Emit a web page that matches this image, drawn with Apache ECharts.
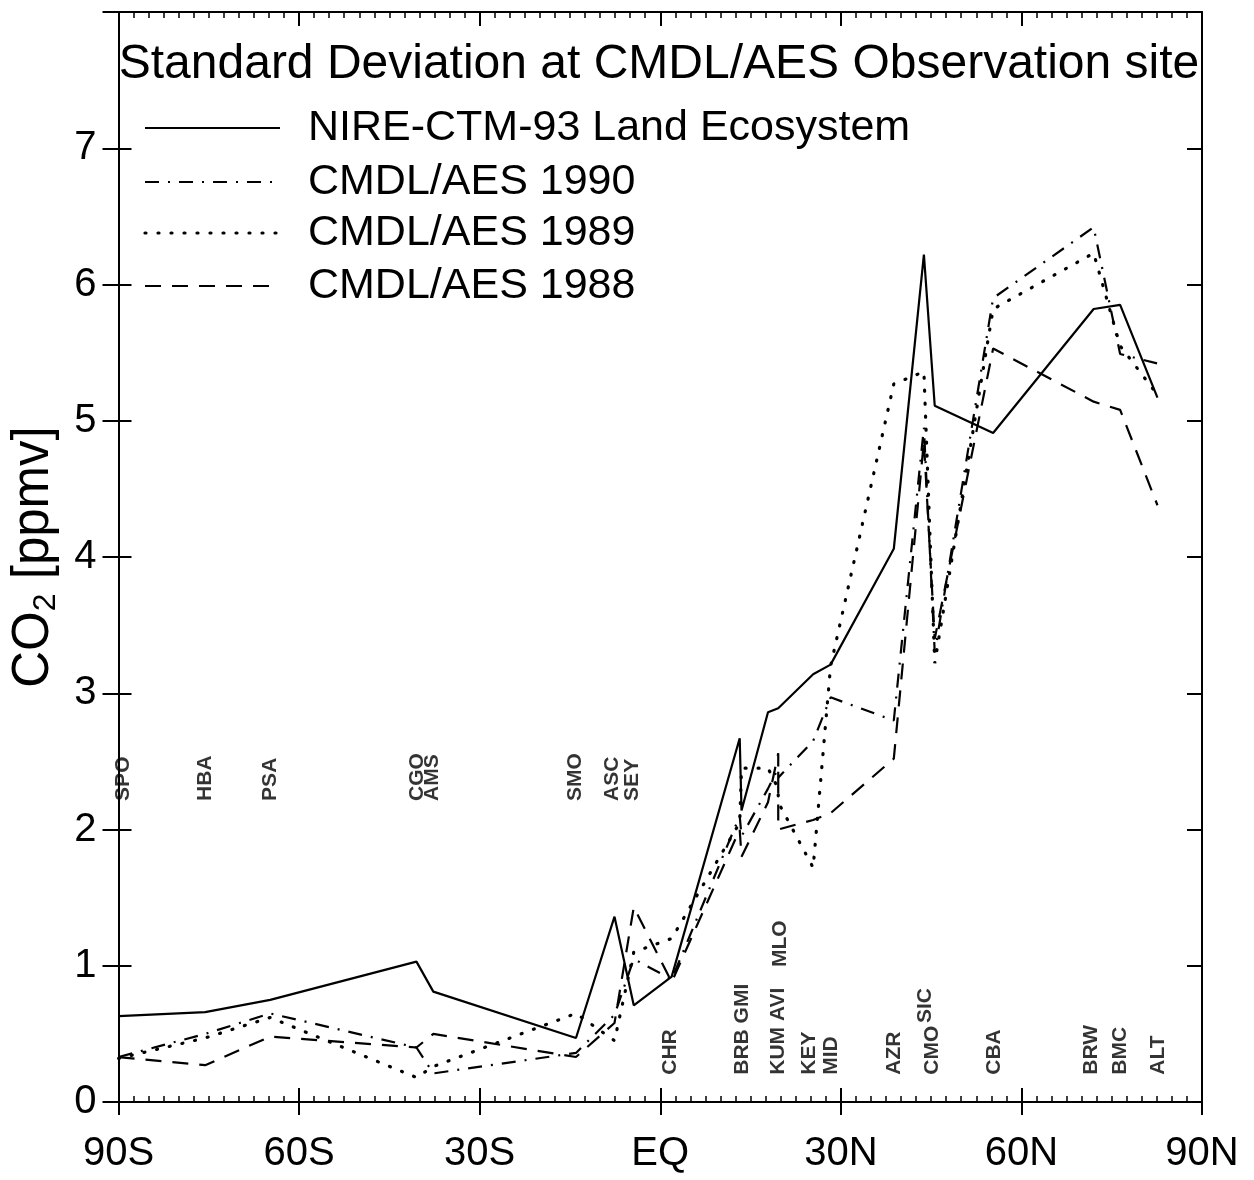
<!DOCTYPE html>
<html><head><meta charset="utf-8">
<script src="https://cdn.jsdelivr.net/npm/echarts@6/dist/echarts.min.js"></script>
<style>html,body{margin:0;padding:0;background:#fff}#c{width:1254px;height:1180px}</style>
</head><body><div id="c"></div>
<script>
// ---- data ----
const stations = ['SPO','HBA','PSA','CGO','AMS','SMO','ASC','SEY','CHR','BRB','GMI','AVI','KUM','MLO','KEY','MID','AZR','SIC','CMO','CBA','BRW','BMC','ALT'];
const lats     = [-89.98,-75.6,-64.8,-40.5,-37.7,-14.0,-7.6,-4.4,1.9,13.2,13.5,17.9,19.6,19.6,25.4,28.3,38.8,43.8,45.6,55.3,72.0,76.4,82.6];
const nire     = [0.63,0.66,0.75,1.03,0.81,0.47,1.36,0.71,0.92,2.67,2.14,2.86,2.89,2.90,3.14,3.21,4.06,6.22,5.11,4.91,5.82,5.85,5.17];
const aes1990  = [0.33,0.50,0.65,0.40,0.21,0.36,0.64,1.05,0.90,2.10,1.95,2.30,2.45,2.38,2.65,2.97,2.80,4.95,3.30,5.90,6.42,5.49,5.42];
const aes1989  = [0.32,0.47,0.62,0.18,0.26,0.65,0.45,1.10,1.20,2.05,2.45,2.45,2.30,2.20,1.72,3.20,5.27,5.36,3.22,5.82,6.23,5.55,5.19];
const aes1988  = [0.33,0.27,0.48,0.40,0.50,0.33,0.58,1.43,0.88,2.00,1.80,2.20,2.56,2.00,2.07,2.12,2.52,4.85,3.40,5.53,5.14,5.08,4.38];
const seriesNames = ['NIRE-CTM-93 Land Ecosystem','CMDL/AES 1990','CMDL/AES 1989','CMDL/AES 1988'];
const xTicks = [-90,-60,-30,0,30,60,90];
const xTickLabels = ['90S','60S','30S','EQ','30N','60N','90N'];
const yTickLabels = ['0','1','2','3','4','5','6','7'];
// station labels (text, latitude, label row)
const labelText = ['SPO','HBA','PSA','CGO','AMS','SMO','ASC','SEY','CHR','BRB GMI','KUM AVI','MLO','KEY','MID','AZR','SIC','CMO','CBA','BRW','BMC','ALT'];
const labelLat  = [-89.2,-75.6,-64.8,-40.4,-37.9,-14.2,-7.9,-4.7,1.7,13.6,19.6,19.9,24.8,28.4,38.8,44.0,45.2,55.4,71.6,76.4,82.7];
const labelRow  = ['S','S','S','S','S','S','S','S','N','N','N','M','N','N','N','C','N','N','N','N','N'];

// ---- layout helpers ----
const rowY = {S:2.21, N:0.2, C:0.58, M:0.99};
const FONT = "'Liberation Sans', Arial, Helvetica, sans-serif";
const pairs = arr => lats.map((x,i)=>[x,arr[i]]);
const styles = [
  {type:'solid', width:2.2},
  {type:[14,9,2,9], width:2.2},
  {type:[1,12], width:3.2, cap:'round'},
  {type:[16,11], width:2.2}
];
const dataSets = [nire, aes1990, aes1989, aes1988];

const chart = echarts.init(document.getElementById('c'), null, {renderer:'canvas'});
const grid = {left:116, right:52, top:12, bottom:78};
const xBase = {type:'value', min:-90, max:90, interval:30, gridIndex:0,
  splitLine:{show:false}, axisLine:{show:true, onZero:false, lineStyle:{color:'#000', width:2}}};
const yBase = {type:'value', min:0, max:8, interval:1, gridIndex:0,
  splitLine:{show:false}, axisLine:{show:true, onZero:false, lineStyle:{color:'#000', width:2}}};

// legend drawn as graphic elements
const legendRowsY = [128, 182, 233, 286];
const legendGraphics = [];
seriesNames.forEach((n,i)=>{
  const st = styles[i];
  legendGraphics.push({
    type:'line', shape:{x1:145, y1:legendRowsY[i], x2:280, y2:legendRowsY[i]},
    style:{stroke:'#000', lineWidth:st.width, lineDash: st.type==='solid'?null:st.type, lineCap: st.cap||'butt'},
    silent:true, z:10
  });
  legendGraphics.push({
    type:'text', x:308, y:legendRowsY[i],
    style:{text:n, font:"43px 'Liberation Sans', Arial, sans-serif", fill:'#000', textVerticalAlign:'middle', verticalAlign:'middle'},
    silent:true, z:10
  });
});

const option = {
  animation:false,
  backgroundColor:'#fff',
  grid: grid,
  title: {
    text:'Standard Deviation at CMDL/AES Observation site',
    left:659, textAlign:'center', top:41, padding:0,
    textStyle:{fontFamily:FONT, fontSize:48, fontWeight:'normal', color:'#000'}
  },
  graphic: legendGraphics,
  xAxis: [
    Object.assign({}, xBase, {position:'bottom',
      axisTick:{show:true, inside:false, length:13, lineStyle:{color:'#000', width:2}},
      axisLabel:{show:true, margin:32, fontFamily:FONT, fontSize:40, color:'#000', showMinLabel:true, showMaxLabel:true,
        formatter: v => { const i = xTicks.indexOf(v); return i>=0 ? xTickLabels[i] : ''; }}}),
    Object.assign({}, xBase, {position:'bottom',
      axisTick:{show:true, inside:true, length:14, lineStyle:{color:'#000', width:2}},
      minorTick:{show:true, splitNumber:12, length:6, lineStyle:{color:'#000', width:1.5}},
      axisLabel:{show:false}}),
    Object.assign({}, xBase, {position:'top',
      axisTick:{show:true, inside:true, length:14, lineStyle:{color:'#000', width:2}},
      minorTick:{show:true, splitNumber:12, length:6, lineStyle:{color:'#000', width:1.5}},
      axisLabel:{show:false}})
  ],
  yAxis: [
    Object.assign({}, yBase, {position:'left',
      axisTick:{show:true, inside:false, length:16, lineStyle:{color:'#000', width:2}},
      axisLabel:{show:true, margin:22, fontFamily:FONT, fontSize:40, color:'#000',
        formatter: v => (v < yTickLabels.length ? yTickLabels[v] : '')},
      name:'{a|CO}{b|2}{a| [ppmv]}', nameLocation:'middle', nameGap:56, nameRotate:90,
      nameTextStyle:{rich:{
        a:{fontFamily:FONT, fontSize:51, color:'#000', lineHeight:58, verticalAlign:'middle'},
        b:{fontFamily:FONT, fontSize:32, color:'#000', lineHeight:42, verticalAlign:'bottom'}
      }}}),
    Object.assign({}, yBase, {position:'left',
      axisTick:{show:true, inside:true, length:13, lineStyle:{color:'#000', width:2}},
      axisLabel:{show:false}}),
    Object.assign({}, yBase, {position:'right',
      axisTick:{show:true, inside:true, length:15, lineStyle:{color:'#000', width:2}},
      axisLabel:{show:false}})
  ],
  series: seriesNames.map((n,i)=>({
    name:n, type:'line', xAxisIndex:0, yAxisIndex:0, data: pairs(dataSets[i]),
    symbol:'none', lineStyle:Object.assign({color:'#000'}, styles[i]), itemStyle:{color:'#000'},
    z: 3
  })).concat([{
    name:'stations', type:'scatter', xAxisIndex:0, yAxisIndex:0, symbolSize:0, silent:true,
    data: labelText.map((t,i)=>[labelLat[i], rowY[labelRow[i]], t]),
    label:{show:true, position:'inside', rotate:90, align:'left', verticalAlign:'middle',
      formatter: p => p.data[2], fontFamily:FONT, fontSize:21, fontWeight:'bold', color:'#000'},
    z: 2
  }])
};
chart.setOption(option);
</script></body></html>
